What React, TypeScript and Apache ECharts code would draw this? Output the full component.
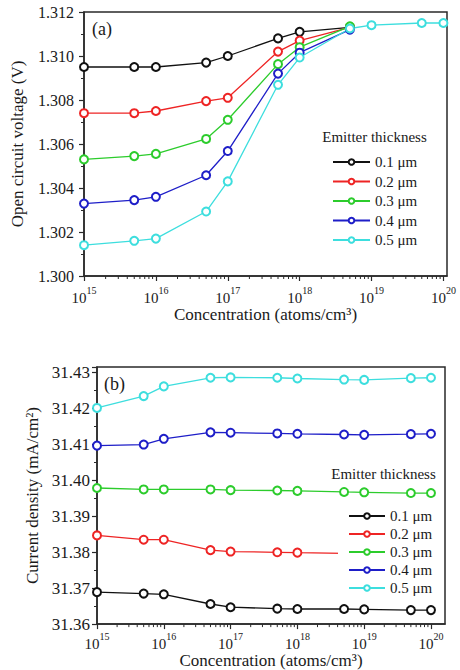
import React, { useEffect, useRef } from 'react';
import * as echarts from 'echarts';

// ---------- data ----------
const concentrationA = [1e15, 5e15, 1e16, 5e16, 1e17, 5e17, 1e18, 5e18];
const concentrationACyan = [1e15, 5e15, 1e16, 5e16, 1e17, 5e17, 1e18, 5e18, 1e19, 5e19, 1e20];
const concentrationB = [1e15, 5e15, 1e16, 5e16, 1e17, 5e17, 1e18, 5e18, 1e19, 5e19, 1e20];

const thicknessNames = ['0.1 μm', '0.2 μm', '0.3 μm', '0.4 μm', '0.5 μm'];
const seriesColors = ['#111111', '#ee2424', '#2ccc2c', '#1e1ec8', '#3ddede'];

// Open circuit voltage (V)
const vocT01 = [1.3095, 1.3095, 1.3095, 1.3097, 1.3100, 1.3108, 1.3111, 1.3113];
const vocT02 = [1.3074, 1.3074, 1.3075, 1.30795, 1.3081, 1.3102, 1.3107, 1.3113];
const vocT03 = [1.3053, 1.30545, 1.30555, 1.30623, 1.3071, 1.30963, 1.3104, 1.31135];
const vocT04 = [1.30329, 1.30345, 1.3036, 1.30458, 1.30568, 1.3092, 1.31015, 1.3112];
const vocT05 = [1.3014, 1.3016, 1.3017, 1.30293, 1.3043, 1.30869, 1.30993, 1.31125, 1.3114, 1.3115, 1.3115];

// Current density (mA/cm2)
const jscT01 = [31.3689, 31.3685, 31.3683, 31.3656, 31.3647, 31.3643, 31.3642, 31.3642, 31.3641, 31.3639, 31.3639];
const jscT02 = [31.3847, 31.3835, 31.3835, 31.3806, 31.3802, 31.38, 31.3799, 31.3797, 31.3796, 31.3795, 31.3795];
const jscT03 = [31.3979, 31.3975, 31.3975, 31.3975, 31.3973, 31.3972, 31.3971, 31.3968, 31.3967, 31.3965, 31.3965];
const jscT04 = [31.4097, 31.41, 31.4116, 31.4134, 31.4133, 31.4131, 31.413, 31.4128, 31.4127, 31.4129, 31.413];
const jscT05 = [31.4202, 31.4235, 31.4262, 31.4286, 31.4287, 31.4286, 31.4284, 31.4281, 31.428, 31.4285, 31.4286];

const vocAxisTicks = { min: 1.3, max: 1.312, interval: 0.002 };
const jscAxisTicks = { min: 31.36, max: 31.4316, interval: 0.01 };

// ---------- styling ----------
const FONT = "'Liberation Serif', 'Times New Roman', serif";
const TXT = '#1a1a1a';
const AX = '#2a2a2a';

const minorLogTicks = (fromExp: number, toExp: number, maxVal: number) => {
  const out: number[][] = [];
  for (let n = fromExp; n <= toExp; n++) {
    for (let k = 2; k <= 9; k++) {
      const v = k * Math.pow(10, n);
      if (v < maxVal) out.push([v]);
    }
  }
  return out;
};

const xLabelFormatter = (v: number) => {
  const e = Math.round(Math.log10(v));
  return `{b|10}{s|${e}}`;
};

const xRich = {
  b: { fontSize: 15, fontFamily: FONT, color: TXT, lineHeight: 20, verticalAlign: 'bottom' },
  s: { fontSize: 10, fontFamily: FONT, color: TXT, verticalAlign: 'top', lineHeight: 12 },
};

export default function App() {
  const ref = useRef<HTMLDivElement>(null);

  useEffect(() => {
    if (!ref.current) return;
    const chart = echarts.init(ref.current, undefined, { renderer: 'svg' });

    const axisLine = { show: true, lineStyle: { color: AX, width: 1.5 } };

    const makeX = (gridIndex: number, max: number, margin: number, nameGap: number) => ({
      type: 'log',
      logBase: 10,
      gridIndex,
      min: 1e15,
      max,
      axisLine,
      axisTick: { show: true, length: 5, lineStyle: { color: AX, width: 1.2 } },
      axisLabel: {
        formatter: xLabelFormatter,
        rich: xRich,
        margin,
        showMaxLabel: false,
        showMinLabel: true,
      },
      splitLine: { show: false },
      minorTick: { show: false },
      name: 'Concentration (atoms/cm³)',
      nameLocation: 'middle',
      nameGap,
      nameTextStyle: { fontSize: 17, fontFamily: FONT, color: TXT },
    });

    const makeY = (
      gridIndex: number,
      t: { min: number; max: number; interval: number },
      digits: number,
      fontSize: number,
      margin: number,
      name: string,
      nameGap: number,
      showMax: boolean
    ) => ({
      type: 'value',
      gridIndex,
      min: t.min,
      max: t.max,
      interval: t.interval,
      axisLine,
      axisTick: { show: true, length: 5, lineStyle: { color: AX, width: 1.2 } },
      minorTick: { show: true, splitNumber: 2, length: 3, lineStyle: { color: AX, width: 1 } },
      axisLabel: {
        formatter: (v: number) => v.toFixed(digits),
        fontSize,
        fontFamily: FONT,
        color: TXT,
        margin,
        showMaxLabel: showMax,
      },
      splitLine: { show: false },
      name,
      nameLocation: 'middle',
      nameGap,
      nameTextStyle: { fontSize: 17, fontFamily: FONT, color: TXT },
    });

    const lineSeries = (
      name: string,
      color: string,
      xs: number[],
      ys: number[],
      axisIdx: number,
      symbolSize: number,
      borderWidth: number
    ) => ({
      type: 'line',
      name,
      xAxisIndex: axisIdx,
      yAxisIndex: axisIdx,
      data: xs.map((x, i) => [x, ys[i]]),
      symbol: 'emptyCircle',
      symbolSize,
      lineStyle: { color, width: 1.3 },
      itemStyle: { color, borderColor: color, borderWidth },
      emphasis: { disabled: true },
      clip: false,
    });

    const minorSeries = (axisIdx: number, yMin: number, max: number) => ({
      type: 'custom',
      name: 'minor' + axisIdx,
      xAxisIndex: axisIdx,
      yAxisIndex: axisIdx,
      silent: true,
      data: minorLogTicks(15, 20, max).map((d) => [d[0], yMin]),
      renderItem: (_p: any, api: any) => {
        const pt = api.coord([api.value(0), api.value(1)]);
        return {
          type: 'line',
          shape: { x1: pt[0], y1: pt[1], x2: pt[0], y2: pt[1] + 3 },
          style: { stroke: AX, lineWidth: 1 },
        };
      },
    });

    const topMax = Math.pow(10, 20.05);
    const botMax = Math.pow(10, 20.21);

    const vocData = [vocT01, vocT02, vocT03, vocT04];
    const jscData = [jscT01, jscT02, jscT03, jscT04, jscT05];

    const legendCommon = {
      orient: 'vertical',
      data: thicknessNames,
      backgroundColor: '#ffffff',
      textStyle: { fontSize: 15, fontFamily: FONT, color: TXT, lineHeight: 16 },
      itemHeight: 7,
      selectedMode: false,
    };

    chart.setOption({
      animation: false,
      backgroundColor: '#ffffff',
      grid: [
        { left: 84, top: 12, width: 363, height: 264, show: true, borderColor: AX, borderWidth: 1.5, backgroundColor: 'transparent' },
        { left: 97, top: 367, width: 348, height: 261, show: true, borderColor: AX, borderWidth: 1.5, backgroundColor: 'transparent' },
      ],
      xAxis: [makeX(0, topMax, 9, 29), makeX(1, botMax, 7, 27)],
      yAxis: [
        makeY(0, vocAxisTicks, 3, 16, 10, 'Open circuit voltage (V)', 58, true),
        makeY(1, jscAxisTicks, 2, 17, 7, 'Current density (mA/cm²)', 56, false),
      ],
      legend: [
        { ...legendCommon, left: 326, top: 151, padding: [3, 6], itemWidth: 37, itemGap: 3.5 },
        { ...legendCommon, left: 338, top: 502, padding: [6, 8, 6, 10], itemWidth: 36, itemGap: 2 },
      ],
      graphic: [
        { type: 'text', x: 92, y: 29, style: { text: '(a)', font: `18px ${FONT}`, fill: TXT, verticalAlign: 'middle' } },
        { type: 'text', x: 104, y: 384, style: { text: '(b)', font: `18px ${FONT}`, fill: TXT, verticalAlign: 'middle' } },
        { type: 'text', x: 374.5, y: 137, style: { text: 'Emitter thickness', font: `15px ${FONT}`, fill: TXT, align: 'center', verticalAlign: 'middle' } },
        { type: 'text', x: 383.5, y: 474, style: { text: 'Emitter thickness', font: `15px ${FONT}`, fill: TXT, align: 'center', verticalAlign: 'middle' } },
      ],
      series: [
        minorSeries(0, vocAxisTicks.min, topMax),
        minorSeries(1, jscAxisTicks.min, botMax),
        ...vocData.map((ys, i) => lineSeries(thicknessNames[i], seriesColors[i], concentrationA, ys, 0, 8, 1.5)),
        lineSeries(thicknessNames[4], seriesColors[4], concentrationACyan, vocT05, 0, 8, 1.5),
        ...jscData.map((ys, i) => lineSeries(thicknessNames[i], seriesColors[i], concentrationB, ys, 1, 8, 2.4)),
      ],
    });

    return () => chart.dispose();
  }, []);

  return (
    <div
      ref={ref}
      style={{ position: 'absolute', left: 0, top: 0, width: 460, height: 670, background: '#fff' }}
    />
  );
}
